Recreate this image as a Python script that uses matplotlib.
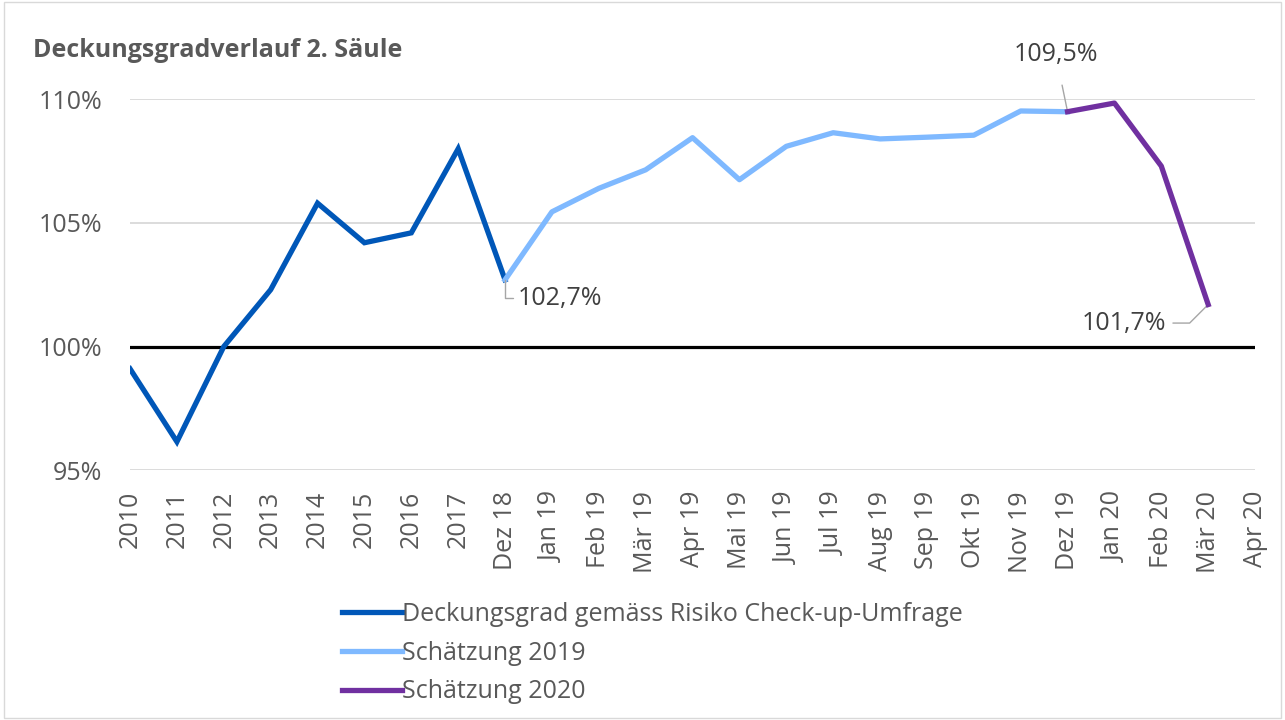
import numpy as np
import matplotlib.pyplot as plt
from matplotlib.patches import Rectangle

plt.rcParams['font.family'] = ['Open Sans', 'DejaVu Sans']

# Kategorien (x-Achse)
kategorien = ["2010", "2011", "2012", "2013", "2014", "2015", "2016", "2017",
              "Dez 18", "Jan 19", "Feb 19", "Mär 19", "Apr 19", "Mai 19",
              "Jun 19", "Jul 19", "Aug 19", "Sep 19", "Okt 19", "Nov 19",
              "Dez 19", "Jan 20", "Feb 20", "Mär 20", "Apr 20"]

# Deckungsgrad gemäss Risiko Check-up-Umfrage (2010 .. Dez 18)
umfrage = [99.1, 96.15, 100.0, 102.3, 105.8, 104.2, 104.6, 108.0, 102.7]
# Schätzung 2019 (Dez 18 .. Dez 19)
schaetzung_2019 = [102.7, 105.45, 106.4, 107.15, 108.45, 106.75, 108.1,
                   108.65, 108.4, 108.47, 108.55, 109.53, 109.5]
# Schätzung 2020 (Dez 19 .. Mär 20)
schaetzung_2020 = [109.5, 109.85, 107.3, 101.7]

start_2019 = kategorien.index("Dez 18")
start_2020 = kategorien.index("Dez 19")

x = np.arange(len(kategorien))

fig = plt.figure(figsize=(12.85, 7.2), dpi=100)
ax = fig.add_axes([0.1012, 0.347, 0.8755, 0.515])

ax.axhline(100, color="black", lw=2.3, zorder=2)

c_umfrage = "#0057b8"
c_2019 = "#7fb9ff"
c_2020 = "#7030a0"

ax.plot(x[:len(umfrage)], umfrage, color=c_umfrage, lw=3.8,
        solid_joinstyle="miter", zorder=3,
        label="Deckungsgrad gemäss Risiko Check-up-Umfrage")
ax.plot(x[start_2019:start_2019 + len(schaetzung_2019)], schaetzung_2019,
        color=c_2019, lw=3.8, zorder=3, label="Schätzung 2019")
ax.plot(x[start_2020:start_2020 + len(schaetzung_2020)], schaetzung_2020,
        color=c_2020, lw=3.8, zorder=4, label="Schätzung 2020")

ax.set_xlim(0, len(kategorien) - 1)
ax.set_ylim(95, 110)
ax.set_yticks([95, 100, 105, 110])
ax.set_yticklabels(["95%", "100%", "105%", "110%"])
ax.set_xticks(x)
ax.set_xticklabels(kategorien, rotation=90, va="top")
ax.tick_params(axis="both", length=0, labelsize=18, labelcolor="#595959")
ax.tick_params(axis="x", pad=15)
ax.tick_params(axis="y", pad=20)
for s in ax.spines.values():
    s.set_visible(False)
ax.grid(axis="y", color="#d9d9d9", lw=1.3, zorder=1)
ax.set_axisbelow(True)

# Datenbeschriftungen mit Führungslinien
lab_col = "#404040"
lead_col = "#a6a6a6"
i_dez18 = kategorien.index("Dez 18")
ax.annotate("102,7%", xy=(i_dez18, umfrage[-1]), xytext=(i_dez18 + 0.28, 101.95),
            fontsize=18, color=lab_col, va="center", ha="left",
            arrowprops=dict(arrowstyle="-", color=lead_col, lw=1,
                            connectionstyle="angle,angleA=0,angleB=90,rad=0",
                            shrinkA=2, shrinkB=0))
i_dez19 = kategorien.index("Dez 19")
ax.annotate("109,5%", xy=(i_dez19, schaetzung_2019[-1]), xytext=(i_dez19 - 0.25, 111.8),
            fontsize=18, color=lab_col, va="center", ha="center",
            annotation_clip=False,
            arrowprops=dict(arrowstyle="-", color=lead_col, lw=1,
                            shrinkA=11, shrinkB=0))
i_maer20 = kategorien.index("Mär 20")
ax.annotate("101,7%", xy=(i_maer20, schaetzung_2020[-1]), xytext=(i_maer20 - 0.9, 100.95),
            fontsize=18, color=lab_col, va="center", ha="right",
            arrowprops=dict(arrowstyle="-", color=lead_col, lw=1,
                            connectionstyle="angle,angleA=0,angleB=45,rad=0",
                            shrinkA=3, shrinkB=0))

fig.text(0.026, 0.93, "Deckungsgradverlauf 2. Säule", fontsize=18,
         fontweight="bold", color="#595959", va="center")

fig.legend(loc="upper left", bbox_to_anchor=(0.258, 0.178), frameon=False,
           fontsize=18, labelcolor="#595959", handlelength=2.4,
           handletextpad=0.0, labelspacing=0.55, borderaxespad=0)

fig.patches.append(Rectangle((0.003, 0.003), 0.994, 0.994, transform=fig.transFigure,
                             fill=False, edgecolor="#d9d9d9", lw=1))

fig.savefig("out.png", dpi=100)
